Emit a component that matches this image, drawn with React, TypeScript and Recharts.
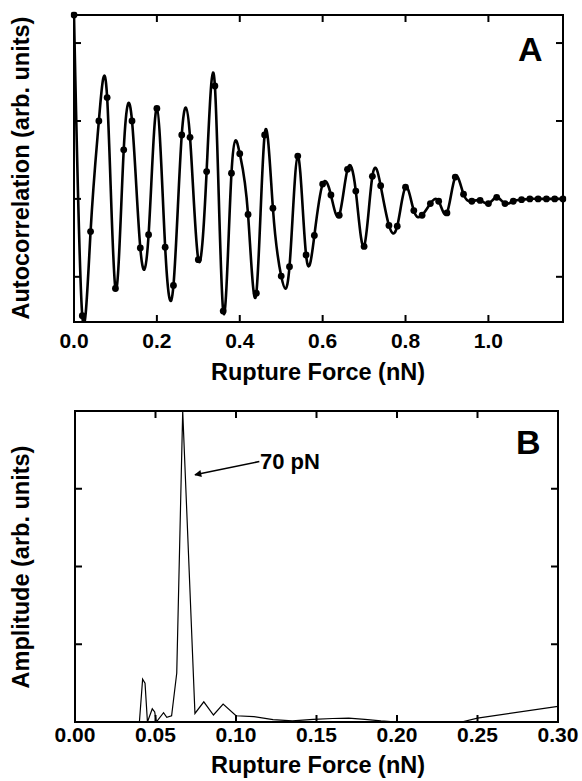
import { LineChart, Line, XAxis, YAxis, ReferenceLine } from "recharts";

// panel A: autocorrelation sampled every 20 pN
const forceA = [
  0.0, 0.02, 0.04, 0.06, 0.08, 0.1, 0.12, 0.14, 0.16, 0.18,
  0.2, 0.22, 0.24, 0.26, 0.28, 0.3, 0.32, 0.34, 0.36, 0.38,
  0.4, 0.42, 0.44, 0.46, 0.48, 0.5, 0.52, 0.54, 0.56, 0.58,
  0.6, 0.62, 0.64, 0.66, 0.68, 0.7, 0.72, 0.74, 0.76, 0.78,
  0.8, 0.82, 0.84, 0.86, 0.88, 0.9, 0.92, 0.94, 0.96, 0.98,
  1.0, 1.02, 1.04, 1.06, 1.08, 1.1, 1.12, 1.14, 1.16, 1.18,
];
const autocorr = [
  2.36, -1.5, -0.42, 1.0, 1.3, -1.15, 0.63, 1.0, -0.63, -0.46,
  1.16, -0.62, -1.11, 0.82, 0.79, -0.78, 0.35, 1.45, -1.44, 0.33,
  0.58, -0.2, -1.21, 0.82, -0.12, -0.99, -0.87, 0.55, -0.72, -0.47,
  0.19, 0.05, -0.21, 0.38, 0.1, -0.61, 0.29, 0.17, -0.34, -0.35,
  0.15, -0.15, -0.21, -0.06, -0.03, -0.18, 0.28, 0.06, -0.03, -0.02,
  -0.06, 0.02, -0.06, -0.03, -0.01, 0.0, 0.0, 0.0, 0.0, 0.0,
];
const xDomainA = [0, 1.18];
const yDomainA = [-1.58, 2.36];
const xTicksA = [0, 0.2, 0.4, 0.6, 0.8, 1.0];
const yTicksA = [-1, 0, 1, 2];

// panel B: amplitude spectrum
const forceB = [
  0.04, 0.042, 0.0435, 0.045, 0.048, 0.0495, 0.0505, 0.055, 0.057, 0.06,
  0.0632, 0.0669, 0.0745, 0.08, 0.086, 0.092, 0.1, 0.111, 0.123, 0.135,
  0.148, 0.16, 0.17, 0.18, 0.19, 0.2, 0.24, 0.25, 0.3,
];
const amplitude = [
  0, 0.55, 0.5, 0, 0.17, 0.13, 0, 0.12, 0.06, 0.08,
  0.63, 4.0, 0.11, 0.26, 0.09, 0.23, 0.08, 0.07, 0.03, 0.015,
  0.035, 0.045, 0.05, 0.035, 0.015, 0, 0, 0.05, 0.2,
];
const xDomainB = [0, 0.3];
const yDomainB = [0, 4];
const xTicksB = [0, 0.05, 0.1, 0.15, 0.2, 0.25, 0.3];
const yTicksB = [0, 1, 2, 3, 4];

const font = '"Liberation Sans", Arial, Helvetica, sans-serif';
const tickFont = { fontSize: 21, fontWeight: 700, fill: "#000", fontFamily: font };
const frame = { stroke: "#000", strokeWidth: 2 };
const blank = () => "";

const dataA = forceA.map((x, i) => ({ x, y: autocorr[i] }));
const dataB = forceB.map((x, i) => ({ x, y: amplitude[i] }));

const text = (extra: React.CSSProperties): React.CSSProperties => ({
  position: "absolute",
  fontFamily: font,
  fontWeight: 700,
  color: "#000",
  lineHeight: 1,
  whiteSpace: "nowrap",
  ...extra,
});

const box = (left: number, top: number, width: number, height: number): React.CSSProperties => ({
  position: "absolute",
  left,
  top,
  width,
  height,
  border: "2px solid #000",
  boxSizing: "border-box",
  pointerEvents: "none",
});

export default function App() {
  return (
    <div style={{ position: "absolute", left: 0, top: 0, width: 582, height: 781, background: "#fff" }}>
      <div style={{ position: "absolute", left: 0, top: 0 }}>
        <LineChart width={582} height={390} data={dataA} margin={{ top: 10, right: 14, bottom: 28, left: 64 }}>
          <XAxis
            xAxisId="b"
            dataKey="x"
            type="number"
            domain={xDomainA}
            ticks={xTicksA}
            tickFormatter={(v: number) => v.toFixed(1)}
            height={40}
            tickSize={-7}
            tickMargin={18}
            tick={tickFont}
            axisLine={frame}
            tickLine={frame}
            allowDataOverflow
          />
          <XAxis
            xAxisId="t"
            orientation="top"
            dataKey="x"
            type="number"
            domain={xDomainA}
            ticks={xTicksA}
            tickFormatter={blank}
            height={5}
            tickSize={-7}
            axisLine={frame}
            tickLine={frame}
            allowDataOverflow
          />
          <YAxis
            yAxisId="l"
            type="number"
            domain={yDomainA}
            ticks={yTicksA}
            tickFormatter={blank}
            width={10}
            tickSize={-7}
            axisLine={frame}
            tickLine={frame}
            allowDataOverflow
          />
          <YAxis
            yAxisId="r"
            orientation="right"
            type="number"
            domain={yDomainA}
            ticks={yTicksA}
            tickFormatter={blank}
            width={5}
            tickSize={-7}
            axisLine={frame}
            tickLine={frame}
            allowDataOverflow
          />
          {/* invisible series so the top and right axes get drawn */}
          <Line
            xAxisId="t"
            yAxisId="r"
            dataKey="y"
            stroke="none"
            dot={false}
            activeDot={false}
            legendType="none"
            isAnimationActive={false}
          />
          <Line
            xAxisId="b"
            yAxisId="l"
            type="natural"
            dataKey="y"
            stroke="#000"
            strokeWidth={2.6}
            dot={{ r: 3.4, fill: "#000", stroke: "#000", strokeWidth: 0, clipDot: false }}
            activeDot={false}
            isAnimationActive={false}
          />
        </LineChart>
      </div>

      <div style={{ position: "absolute", left: 0, top: 390 }}>
        <LineChart width={582} height={391} data={dataB} margin={{ top: 16, right: 19, bottom: 19, left: 65 }}>
          <defs>
            <marker id="arrowB" viewBox="0 0 10 10" refX="9" refY="5" markerWidth="13" markerHeight="7" markerUnits="userSpaceOnUse" orient="auto">
              <path d="M0,0 L10,5 L0,10 z" fill="#000" />
            </marker>
          </defs>
          <XAxis
            xAxisId="b"
            dataKey="x"
            type="number"
            domain={xDomainB}
            ticks={xTicksB}
            tickFormatter={(v: number) => v.toFixed(2)}
            height={40}
            tickSize={-7}
            tickMargin={12}
            tick={tickFont}
            axisLine={frame}
            tickLine={frame}
            allowDataOverflow
          />
          <XAxis
            xAxisId="t"
            orientation="top"
            dataKey="x"
            type="number"
            domain={xDomainB}
            ticks={xTicksB}
            tickFormatter={blank}
            height={5}
            tickSize={-7}
            axisLine={frame}
            tickLine={frame}
            allowDataOverflow
          />
          <YAxis
            yAxisId="l"
            type="number"
            domain={yDomainB}
            ticks={yTicksB}
            tickFormatter={blank}
            width={10}
            tickSize={-7}
            axisLine={frame}
            tickLine={frame}
            allowDataOverflow
          />
          <YAxis
            yAxisId="r"
            orientation="right"
            type="number"
            domain={yDomainB}
            ticks={yTicksB}
            tickFormatter={blank}
            width={5}
            tickSize={-7}
            axisLine={frame}
            tickLine={frame}
            allowDataOverflow
          />
          <ReferenceLine
            xAxisId="b"
            yAxisId="l"
            segment={[
              { x: 0.1145, y: 3.35 },
              { x: 0.0745, y: 3.18 },
            ]}
            stroke="#000"
            strokeWidth={1.5}
            markerEnd="url(#arrowB)"
          />
          <Line
            xAxisId="t"
            yAxisId="r"
            dataKey="y"
            stroke="none"
            dot={false}
            activeDot={false}
            legendType="none"
            isAnimationActive={false}
          />
          <Line
            xAxisId="b"
            yAxisId="l"
            type="linear"
            dataKey="y"
            stroke="#000"
            strokeWidth={1.2}
            dot={false}
            activeDot={false}
            isAnimationActive={false}
          />
        </LineChart>
      </div>

      {/* plot frames */}
      <div style={box(73, 14, 491, 309)} />
      <div style={box(74, 410, 485, 313)} />

      <div style={text({ left: 518, top: 32, fontSize: 34 })}>A</div>
      <div style={text({ left: 516, top: 425, fontSize: 34 })}>B</div>
      <div style={text({ left: 260, top: 451, fontSize: 22 })}>70 pN</div>

      <div style={text({ left: 318, top: 373, fontSize: 23.5, transform: "translate(-50%, -50%)" })}>
        Rupture Force (nN)
      </div>
      <div style={text({ left: 318, top: 766, fontSize: 23.5, transform: "translate(-50%, -50%)" })}>
        Rupture Force (nN)
      </div>
      <div style={text({ left: 22, top: 168, fontSize: 23.5, transform: "translate(-50%, -50%) rotate(-90deg)" })}>
        Autocorrelation (arb. units)
      </div>
      <div style={text({ left: 22, top: 567, fontSize: 23.5, transform: "translate(-50%, -50%) rotate(-90deg)" })}>
        Amplitude (arb. units)
      </div>
    </div>
  );
}
